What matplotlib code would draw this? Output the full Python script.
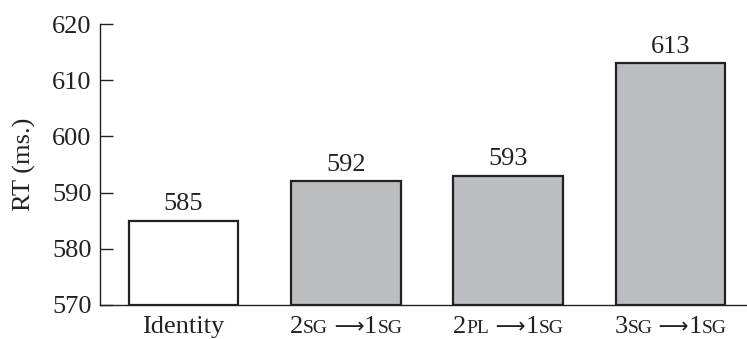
"""Static bar chart: RT (ms.) by prime condition."""

import matplotlib

matplotlib.use("Agg")
import matplotlib.pyplot as plt  # noqa: E402
from matplotlib.offsetbox import AnnotationBbox, HPacker, TextArea  # noqa: E402

# label pieces: (text, small-caps?) so "SG"/"PL" can be set smaller
CATEGORY_PARTS = [
    [("Identity", False)],
    [("2", False), ("SG", True), (" ⟶", None), ("1", False), ("SG", True)],
    [("2", False), ("PL", True), (" ⟶", None), ("1", False), ("SG", True)],
    [("3", False), ("SG", True), (" ⟶", None), ("1", False), ("SG", True)],
]
RT_MS = [585, 592, 593, 613]
VALUE_LABELS = ["585", "592", "593", "613"]
BAR_COLORS = ["white", "#bcbdc1", "#bcbdc1", "#bcbdc1"]
Y_TICKS = [570, 580, 590, 600, 610, 620]

SERIF = ["Liberation Serif", "DejaVu Serif"]
FS = 19
EDGE = "#222222"

plt.rcParams["font.family"] = SERIF

fig = plt.figure(figsize=(7.47, 3.39), dpi=100)
ax = fig.add_axes([0.1339, 0.1003, 0.8661, 0.8289])

xs = list(range(len(RT_MS)))
ax.bar(
    xs,
    [v - Y_TICKS[0] for v in RT_MS],
    bottom=Y_TICKS[0],
    width=0.675,
    color=BAR_COLORS,
    edgecolor=EDGE,
    linewidth=1.6,
    zorder=2,
)
for x, v, lab in zip(xs, RT_MS, VALUE_LABELS):
    ax.annotate(
        lab,
        (x, v),
        xytext=(0, 4),
        textcoords="offset points",
        ha="center",
        va="bottom",
        fontsize=FS,
        color="#222222",
    )

ax.set_ylim(Y_TICKS[0], Y_TICKS[-1])
ax.set_xlim(-0.514, 3.47)
ax.set_yticks(Y_TICKS)
ax.tick_params(axis="y", direction="in", length=9.5, width=1.0, labelsize=FS,
               pad=6, colors="#222222")
ax.set_xticks(xs)
ax.set_xticklabels([])
ax.tick_params(axis="x", length=0)
ax.set_ylabel("RT (ms.)", fontsize=FS, color="#222222", labelpad=12)
ax.spines["top"].set_visible(False)
ax.spines["right"].set_visible(False)
for side in ("left", "bottom"):
    ax.spines[side].set_color("#222222")
    ax.spines[side].set_linewidth(1.0)

# category labels with small caps, built from text pieces
for x, parts in zip(xs, CATEGORY_PARTS):
    children = []
    for text, small in parts:
        if small is None:
            props = dict(size=FS - 4, family=["DejaVu Sans"], color="#222222")
        else:
            props = dict(size=FS - 5 if small else FS, family=SERIF, color="#222222")
        children.append(TextArea(text, textprops=props))
    box = HPacker(children=children, align="baseline", pad=0, sep=0)
    ab = AnnotationBbox(
        box,
        (x, 0),
        xycoords=ax.get_xaxis_transform(),
        xybox=(0, -8),
        boxcoords="offset points",
        box_alignment=(0.5, 1),
        frameon=False,
        annotation_clip=False,
    )
    ax.add_artist(ab)

fig.savefig("out.png", dpi=100)
